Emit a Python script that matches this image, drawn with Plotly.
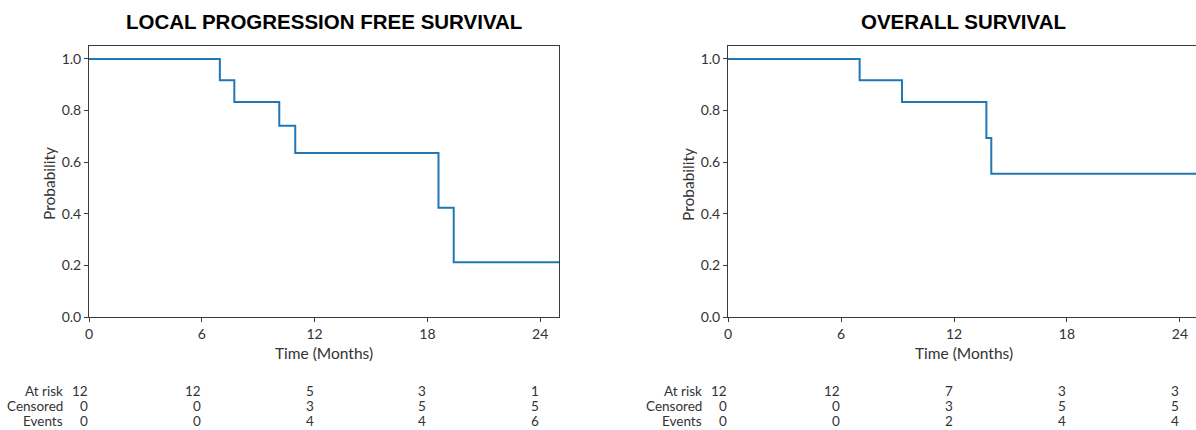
import plotly.graph_objects as go

# ---- data ----
lpfs_time = [0, 6.96, 7.73, 10.12, 10.97, 18.59, 19.40, 25.0]
lpfs_surv = [1.0, 0.917, 0.833, 0.741, 0.635, 0.423, 0.212, 0.212]

os_time = [0, 6.99, 9.24, 13.72, 13.98, 25.0]
os_surv = [1.0, 0.917, 0.833, 0.694, 0.555, 0.555]

tick_months = [0, 6, 12, 18, 24]
y_ticks = [0.0, 0.2, 0.4, 0.6, 0.8, 1.0]
row_labels = ["At risk", "Censored", "Events"]

lpfs_at_risk = [12, 12, 5, 3, 1]
lpfs_censored = [0, 0, 3, 5, 5]
lpfs_events = [0, 0, 4, 4, 6]

os_at_risk = [12, 12, 7, 3, 3]
os_censored = [0, 0, 3, 5, 5]
os_events = [0, 0, 2, 4, 4]

titles = ["LOCAL PROGRESSION FREE SURVIVAL", "OVERALL SURVIVAL"]

# ---- layout constants ----
W, H = 1196, 430
BLUE = "#1f77b4"
AX = "#3a3a3a"
TXT = "#333333"
FONT = "Lato"
dom_y = [(H - 317) / H, (H - 46) / H]
panels = [
    dict(dom=[89 / W, 559 / W], xr=[0, 25.0], t=lpfs_time, s=lpfs_surv,
         tbl=[lpfs_at_risk, lpfs_censored, lpfs_events], mirror_y=True),
    dict(dom=[728 / W, 1.0], xr=[0, 24.85], t=os_time, s=os_surv,
         tbl=[os_at_risk, os_censored, os_events], mirror_y=False),
]

fig = go.Figure()
annotations = []
layout = {}
for i, p in enumerate(panels):
    k = "" if i == 0 else str(i + 1)
    xa, ya = "x" + k, "y" + k
    fig.add_trace(go.Scatter(x=p["t"], y=p["s"], mode="lines",
                             line=dict(color=BLUE, width=2, shape="hv"),
                             xaxis=xa, yaxis=ya, showlegend=False,
                             hoverinfo="x+y"))
    layout["xaxis" + k] = dict(
        domain=p["dom"], range=p["xr"], anchor=ya, automargin=False,
        tickmode="array", tickvals=tick_months, ticks="outside", ticklen=4,
        tickcolor=AX, showline=True, linecolor=AX, linewidth=1, mirror=True,
        showgrid=False, zeroline=False,
        tickfont=dict(family=FONT, size=14, color=TXT))
    layout["yaxis" + k] = dict(
        domain=dom_y, range=[0, 1.05], anchor=xa, automargin=False,
        tickmode="array", tickvals=y_ticks, ticktext=[f"{v:.1f}" for v in y_ticks],
        ticks="outside", ticklen=4, tickcolor=AX, showline=True, linecolor=AX,
        linewidth=1, mirror=p["mirror_y"], showgrid=False, zeroline=False,
        tickfont=dict(family=FONT, size=14, color=TXT))
    x0 = p["dom"][0] * W
    x1 = 559 if i == 0 else 1199
    # title
    annotations.append(dict(text="<b>" + titles[i] + "</b>", xref="paper", yref="paper",
                            x=(x0 + x1) / 2 / W, y=1 - 22 / H, xanchor="center",
                            yanchor="middle", showarrow=False,
                            font=dict(family="Liberation Sans, Arial", size=20.5, color="#000")))
    # x title
    annotations.append(dict(text="Time (Months)", xref="paper", yref="paper",
                            x=(x0 + x1) / 2 / W, y=1 - 353 / H, xanchor="center",
                            yanchor="middle", showarrow=False,
                            font=dict(family=FONT, size=15.5, color=TXT)))
    # y title
    annotations.append(dict(text="Probability", xref="paper", yref="paper",
                            x=(x0 - 40) / W, y=1 - 184 / H, xanchor="center",
                            yanchor="middle", showarrow=False, textangle=-90,
                            font=dict(family=FONT, size=15.5, color=TXT)))
    # at-risk table
    row_y = [391, 406, 421]
    for r, lab in enumerate(row_labels):
        annotations.append(dict(text=lab, xref="paper", yref="paper",
                                x=(x0 - 24) / W, y=1 - row_y[r] / H, xanchor="right",
                                yanchor="middle", showarrow=False,
                                font=dict(family=FONT, size=13.5, color=TXT)))
        for c, tm in enumerate(tick_months):
            annotations.append(dict(text=str(p["tbl"][r][c]), xref=xa, yref="paper",
                                    x=tm, y=1 - row_y[r] / H, xanchor="right",
                                    yanchor="middle", showarrow=False, xshift=1,
                                    font=dict(family=FONT, size=13.5, color=TXT)))

fig.update_layout(width=W, height=H, margin=dict(l=0, r=0, t=0, b=0),
                  paper_bgcolor="white", plot_bgcolor="white",
                  annotations=annotations, **layout)
fig.write_html("out.html", config={"displayModeBar": False},
               post_script="document.body.style.margin='0';document.body.style.overflow='hidden';")
